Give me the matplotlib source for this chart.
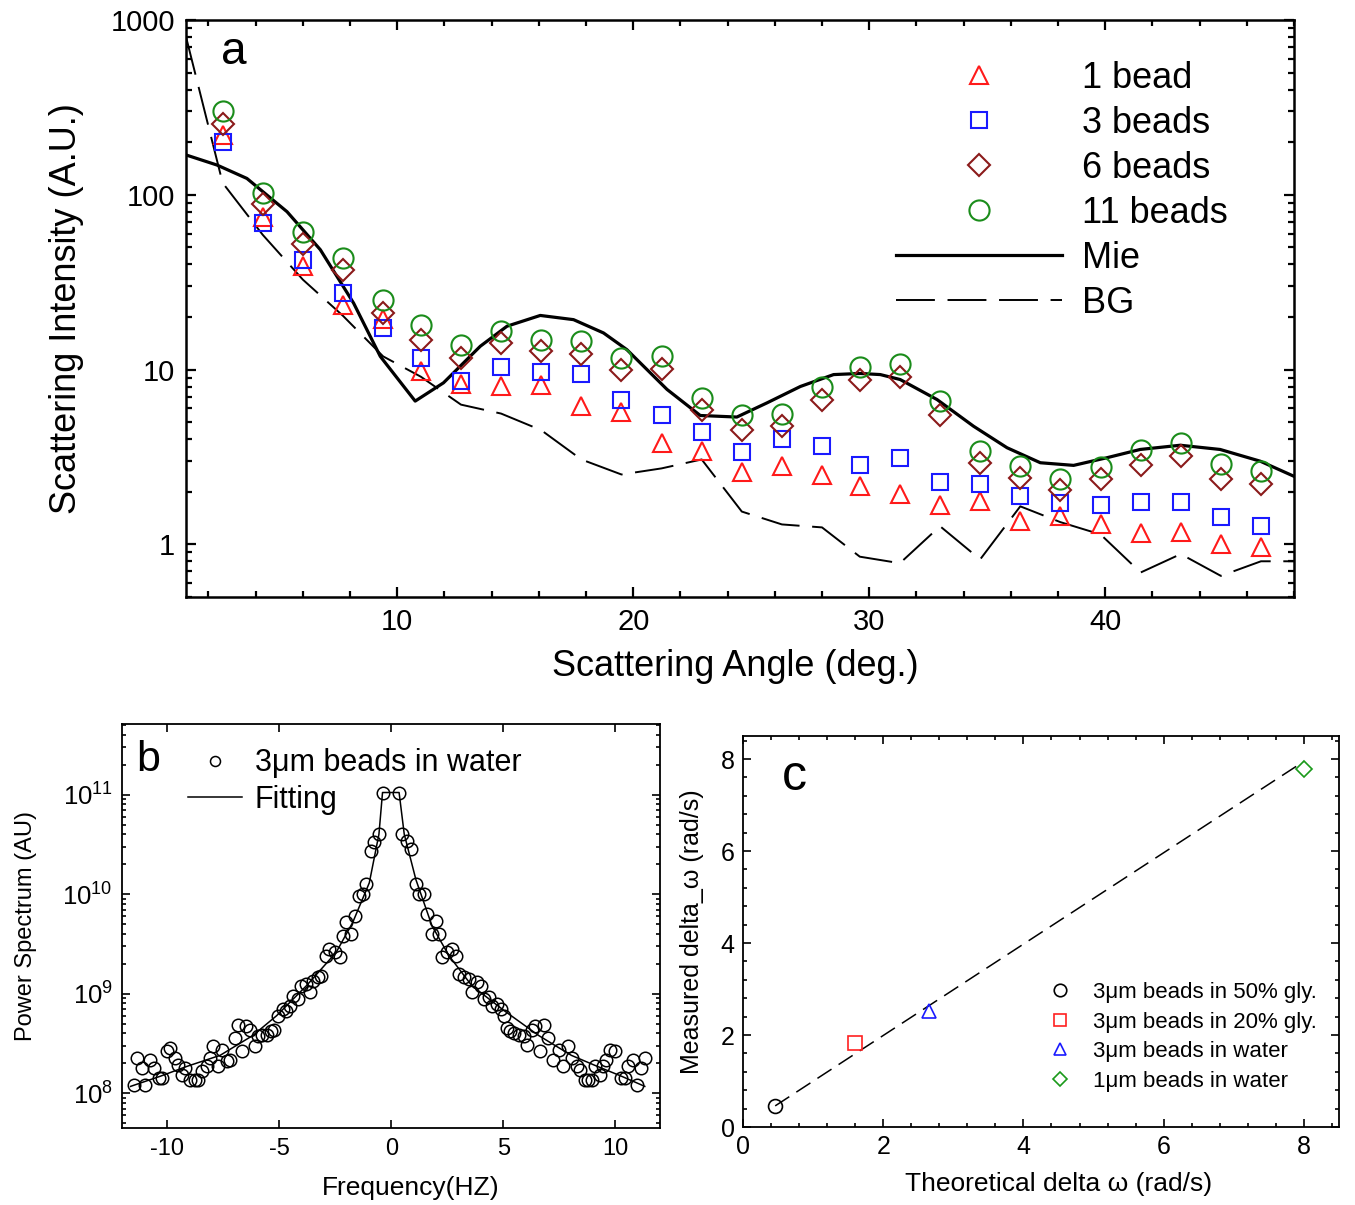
import matplotlib
matplotlib.use('Agg')
import matplotlib.pyplot as plt
from matplotlib.ticker import MultipleLocator, NullFormatter, LogLocator

plt.rcParams['font.family'] = ['Liberation Sans', 'DejaVu Sans']
plt.rcParams['mathtext.fontset'] = 'custom'
plt.rcParams['mathtext.rm'] = 'Liberation Sans'
plt.rcParams['mathtext.it'] = 'Liberation Sans:italic'
plt.rcParams['mathtext.bf'] = 'Liberation Sans:bold'
plt.rcParams['axes.unicode_minus'] = False

# ---- panel a: scattering intensity vs angle
angle = [2.6, 4.3, 6.0, 7.7, 9.4, 11.0, 12.7, 14.4, 16.1, 17.8, 19.5, 21.2, 22.9, 24.6,
         26.3, 28.0, 29.6, 31.3, 33.0, 34.7, 36.4, 38.1, 39.8, 41.5, 43.2, 44.9, 46.6]
one_bead = [220, 75, 39, 23.5, 19.5, 9.8, 8.3, 8.1, 8.2, 6.2, 5.7, 3.8, 3.4, 2.6,
            2.8, 2.5, 2.15, 1.93, 1.68, 1.78, 1.36, 1.46, 1.3, 1.16, 1.18, 1.01, 0.97]
three_beads = [200, 69, 42.5, 27.5, 17.4, 11.6, 8.65, 10.4, 9.7, 9.45, 6.74, 5.46, 4.38, 3.39,
               4.03, 3.65, 2.84, 3.1, 2.27, 2.22, 1.89, 1.73, 1.67, 1.75, 1.75, 1.43, 1.28]
six_beads = [255, 88, 52, 37, 21.2, 14.8, 11.6, 14.2, 12.7, 12.2, 9.9, 10.1, 5.9, 4.54,
             4.74, 6.68, 8.77, 9.03, 5.53, 2.93, 2.4, 2.04, 2.35, 2.83, 3.2, 2.38, 2.2]
eleven_beads = [300, 103, 61, 43.6, 25, 18.1, 13.8, 16.7, 14.8, 14.5, 11.7, 12.0, 6.89, 5.46,
                5.58, 7.92, 10.4, 10.7, 6.65, 3.41, 2.8, 2.37, 2.78, 3.46, 3.81, 2.87, 2.62]

mie_angle = [1.05, 2.36, 3.63, 5.33, 6.74, 8.15, 9.28, 10.76, 11.96, 13.52, 14.65, 16.06,
             17.47, 18.74, 19.73, 21.43, 22.84, 24.39, 25.67, 27.08, 28.49, 29.62, 30.47,
             31.31, 32.87, 34.42, 35.84, 37.25, 38.66, 40.07, 41.48, 43.18, 44.87, 46.57, 48.0]
mie = [169, 148, 124, 80, 48.5, 24, 11.9, 6.6, 8.4, 13.6, 17.7, 20.4,
       19.3, 16.2, 13.0, 7.7, 5.46, 5.35, 6.45, 8.0, 9.36, 9.5, 9.36,
       8.77, 6.74, 4.74, 3.57, 2.93, 2.83, 3.13, 3.49, 3.69, 3.49, 2.99, 2.45]

bg_angle = [1.05, 2.6, 4.3, 6.0, 7.7, 9.4, 11.0, 12.7, 14.4, 16.1, 17.8, 19.5, 21.2, 22.9,
            24.6, 26.3, 28.0, 29.6, 31.3, 33.0, 34.7, 36.4, 38.1, 39.8, 41.5, 43.2, 44.9,
            46.6, 48.0]
bg = [800, 117, 59, 32.7, 20.3, 11.9, 9.1, 6.3, 5.6, 4.5, 3.06, 2.51, 2.72, 3.06,
      1.54, 1.3, 1.25, 0.85, 0.78, 1.27, 0.82, 1.65, 1.34, 1.14, 0.69, 0.88, 0.66,
      0.80, 0.80]

# ---- panel b: power spectrum
psd_freq = [-11.50, -11.35, -11.12, -10.98, -10.79, -10.61, -10.39, -10.24, -10.01, -9.87,
            -9.64, -9.50, -9.35, -9.20, -8.98, -8.76, -8.61, -8.46, -8.24, -8.09,
            -7.94, -7.72, -7.57, -7.35, -7.20, -6.98, -6.83, -6.68, -6.49, -6.31,
            -6.09, -5.94, -5.79, -5.57, -5.39, -5.24, -5.05, -4.83, -4.68, -4.53,
            -4.39, -4.16, -4.01, -3.79, -3.61, -3.50, -3.28, -3.12, -2.90, -2.76,
            -2.53, -2.31, -2.16, -2.01, -1.79, -1.64, -1.42, -1.28, -1.12, -0.90,
            -0.76, -0.53, -0.39,
            0.35, 0.50, 0.72, 0.88, 1.10, 1.24, 1.47, 1.61, 1.84, 1.99,
            2.13, 2.28, 2.50, 2.72, 2.88, 3.02, 3.24, 3.47, 3.61, 3.84,
            3.99, 4.13, 4.36, 4.50, 4.72, 4.88, 5.02, 5.17, 5.32, 5.47,
            5.69, 5.91, 6.06, 6.28, 6.43, 6.65, 6.80, 7.02, 7.24, 7.47,
            7.69, 7.91, 8.06, 8.28, 8.43, 8.65, 8.80, 8.95, 9.10, 9.32,
            9.47, 9.61, 9.76, 9.99, 10.28, 10.43, 10.58, 10.80, 10.95, 11.17,
            11.32]
psd_power = [1.2e8, 2.24e8, 1.78e8, 1.2e8, 2.14e8, 1.78e8, 1.41e8, 1.41e8, 2.63e8, 2.82e8,
             2.24e8, 1.91e8, 1.51e8, 1.78e8, 1.35e8, 1.35e8, 1.35e8, 1.66e8, 1.86e8, 2.24e8,
             2.95e8, 1.86e8, 2.69e8, 2.09e8, 2.14e8, 3.55e8, 4.79e8, 2.63e8, 4.68e8, 4.27e8,
             2.95e8, 3.72e8, 3.8e8, 3.8e8, 4.17e8, 4.27e8, 6.03e8, 7.08e8, 6.76e8, 7.59e8,
             9.55e8, 8.91e8, 1.2e9, 1.26e9, 1.05e9, 1.35e9, 1.48e9, 1.51e9, 2.4e9, 2.82e9,
             2.63e9, 2.34e9, 3.8e9, 5.25e9, 3.98e9, 6.03e9, 9.55e9, 1.0e10, 1.26e10, 2.69e10,
             3.31e10, 3.98e10, 1.05e11,
             1.05e11, 3.98e10, 3.39e10, 2.82e10, 1.26e10, 1.0e10, 1.0e10, 6.31e9, 3.98e9, 5.37e9,
             3.98e9, 2.34e9, 2.63e9, 2.82e9, 2.4e9, 1.58e9, 1.48e9, 1.41e9, 1.05e9, 1.32e9,
             1.2e9, 8.91e8, 9.33e8, 7.59e8, 7.94e8, 7.08e8, 6.03e8, 4.47e8, 4.17e8, 3.98e8,
             3.8e8, 3.72e8, 3.02e8, 4.27e8, 4.68e8, 2.63e8, 4.79e8, 3.55e8, 2.14e8, 2.69e8,
             1.86e8, 2.95e8, 2.24e8, 1.86e8, 1.7e8, 1.35e8, 1.35e8, 1.35e8, 1.86e8, 1.51e8,
             1.86e8, 2.14e8, 2.69e8, 2.63e8, 1.41e8, 1.41e8, 1.86e8, 2.14e8, 1.2e8, 1.78e8,
             2.24e8]
fit_freq = [-11.64, -10.31, -9.12, -7.64, -6.18, -5.12, -3.79, -2.46, -1.72, -0.98, -0.55, -0.39,
            0.35, 0.58, 1.10, 1.82, 2.58, 3.6, 5.1, 6.58, 8.04, 9.1, 10.28, 11.32]
fit_power = [1.17e8, 1.48e8, 1.86e8, 2.4e8, 3.8e8, 6.0e8, 1.2e9, 2.6e9, 5.2e9, 1.3e10, 4.0e10, 1.05e11,
             1.05e11, 4.0e10, 1.4e10, 4.8e9, 2.4e9, 1.2e9, 6.6e8, 3.8e8, 2.4e8, 1.9e8, 1.48e8, 1.17e8]

# ---- panel c: measured vs theoretical
c_labels = ['3\u03bcm beads in 50% gly.', '3\u03bcm beads in 20% gly.',
            '3\u03bcm beads in water', '1\u03bcm beads in water']
theo_dw = [0.46, 1.60, 2.66, 8.0]
meas_dw = [0.46, 1.83, 2.53, 7.78]
c_markers = ['o', 's', '^', 'D']
c_colors = ['black', '#ff2020', '#1a1aff', '#1a9a1a']
line_theo = [0.46, 8.0]
line_meas = [0.46, 7.95]

fig = plt.figure(figsize=(13.55, 12.05), dpi=100)

# ================= panel a
ax = fig.add_axes([0.1373, 0.5046, 0.8177, 0.4788])
ax.plot(mie_angle, mie, color='black', lw=2.3, label='Mie')
ax.plot(bg_angle, bg, color='black', lw=1.4, ls=(0, (20, 6.5)), label='BG')
h1, = ax.plot(angle, one_bead, ls='none', marker='^', ms=13.5, mfc='none', mec='#ff1a1a',
              mew=1.5, label='1 bead')
h3, = ax.plot(angle, three_beads, ls='none', marker='s', ms=11, mfc='none', mec='#1a1aff',
              mew=1.5, label='3 beads')
h6, = ax.plot(angle, six_beads, ls='none', marker='D', ms=11.5, mfc='none', mec='#8b1a1a',
              mew=1.5, label='6 beads')
h11, = ax.plot(angle, eleven_beads, ls='none', marker='o', ms=14.5, mfc='none', mec='#1a8c1a',
               mew=1.5, label='11 beads')
lines = ax.get_lines()
ax.set_yscale('log')
ax.set_xlim(1.05, 48.0)
ax.set_ylim(0.5, 1000)
ax.set_xticks([10, 20, 30, 40])
ax.xaxis.set_minor_locator(MultipleLocator(2))
ax.set_yticks([1, 10, 100, 1000])
ax.set_yticklabels(['1', '10', '100', '1000'])
ax.yaxis.set_minor_locator(LogLocator(subs=range(2, 10)))
ax.yaxis.set_minor_formatter(NullFormatter())
ax.tick_params(which='both', direction='in', top=True, right=True, width=1.6, labelsize=21)
ax.tick_params(which='major', length=7.5, pad=8)
ax.tick_params(which='minor', length=4.5)
for s in ax.spines.values():
    s.set_linewidth(1.8)
ax.set_xlabel('Scattering Angle (deg.)', fontsize=26, labelpad=9, x=0.4955)
ax.set_ylabel('Scattering Intensity (A.U.)', fontsize=26, labelpad=19)
ax.text(0.032, 0.945, 'a', transform=ax.transAxes, fontsize=33, va='center')
ax.legend([h1, h3, h6, h11, lines[0], lines[1]],
          ['1 bead', '3 beads', '6 beads', '11 beads', 'Mie', 'BG'],
          loc='upper left', bbox_to_anchor=(0.641, 0.929), frameon=False, fontsize=26,
          handlelength=4.6, handletextpad=0.55, labelspacing=0.276, borderpad=0,
          borderaxespad=0)

# ================= panel b
bx = fig.add_axes([0.0904, 0.0639, 0.3967, 0.3353])
bx.plot(fit_freq, fit_power, color='black', lw=1.1, label='Fitting')
pts, = bx.plot(psd_freq, psd_power, ls='none', marker='o', ms=9, mfc='none', mec='black',
               mew=1.1, label='3\u03bcm beads in water')
bx.set_yscale('log')
bx.set_xlim(-12, 12)
bx.set_ylim(10 ** 7.65, 10 ** 11.71)
bx.set_xticks([-10, -5, 0, 5, 10])
bx.set_yticks([1e8, 1e9, 1e10, 1e11])
bx.set_yticklabels(['$10^{8}$', '$10^{9}$', '$10^{10}$', '$10^{11}$'])
bx.yaxis.set_minor_locator(LogLocator(subs=range(2, 10)))
bx.yaxis.set_minor_formatter(NullFormatter())
bx.tick_params(which='both', direction='in', top=True, right=True, width=1.2, labelsize=17)
bx.tick_params(axis='y', labelsize=18.5)
bx.tick_params(which='major', length=6, pad=7)
bx.tick_params(which='minor', length=3)
for s in bx.spines.values():
    s.set_linewidth(1.3)
bx.set_xlabel('Frequency(HZ)', fontsize=19, labelpad=12, x=0.537)
bx.set_ylabel('Power Spectrum (AU)', fontsize=17, labelpad=18)
bx.text(0.025, 0.91, 'b', transform=bx.transAxes, fontsize=31, va='center')
bx.legend([pts, bx.get_lines()[0]], ['3\u03bcm beads in water', 'Fitting'],
          loc='upper left', bbox_to_anchor=(0.122, 0.94), frameon=False, fontsize=22,
          handlelength=1.76, handletextpad=0.42, labelspacing=0.215, borderpad=0,
          borderaxespad=0, markerscale=0.8)

# ================= panel c
cx = fig.add_axes([0.5483, 0.0647, 0.4399, 0.3245])
cx.plot(line_theo, line_meas, color='black', lw=1.1, ls=(0, (11, 5.5)))
c_handles = []
for xv, yv, m, c, lab in zip(theo_dw, meas_dw, c_markers, c_colors, c_labels):
    h, = cx.plot([xv], [yv], ls='none', marker=m, ms=10 if m != 'D' else 8, mfc='none',
                 mec=c, mew=1.2, label=lab)
    c_handles.append(h)
cx.set_xlim(0, 8.5)
cx.set_ylim(0, 8.5)
cx.set_xticks([0, 2, 4, 6, 8])
cx.set_yticks([0, 2, 4, 6, 8])
cx.xaxis.set_minor_locator(MultipleLocator(0.4))
cx.yaxis.set_minor_locator(MultipleLocator(0.4))
cx.tick_params(which='both', direction='in', top=True, right=True, width=1.2, labelsize=18)
cx.tick_params(which='major', length=6, pad=6)
cx.tick_params(which='minor', length=3)
for s in cx.spines.values():
    s.set_linewidth(1.3)
cx.set_xlabel('Theoretical delta \u03c9 (rad/s)', fontsize=19, labelpad=9, x=0.529)
cx.set_ylabel('Measured delta_\u03c9 (rad/s)', fontsize=18, labelpad=12)
cx.text(0.065, 0.895, 'c', transform=cx.transAxes, fontsize=36, va='center')
cx.legend(c_handles, c_labels, loc='lower left', bbox_to_anchor=(0.504, 0.09),
          frameon=False, fontsize=16, handlelength=1.5, handletextpad=0.75,
          labelspacing=0.39, borderpad=0, borderaxespad=0, markerscale=0.9)

fig.savefig('out.png', dpi=100)
